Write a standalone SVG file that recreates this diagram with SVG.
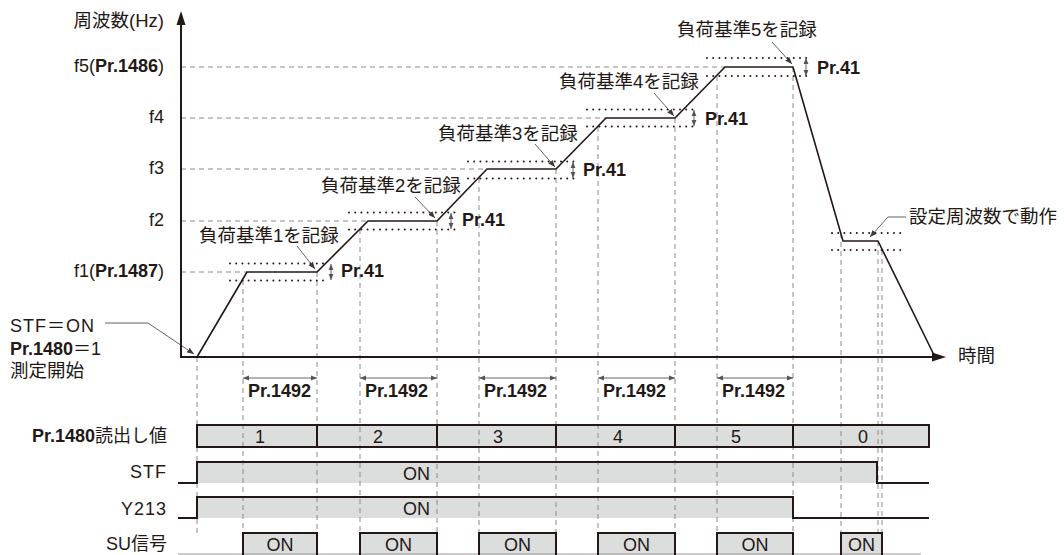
<svg xmlns="http://www.w3.org/2000/svg" width="1064" height="555" viewBox="0 0 1064 555">
<style>
text{font-family:"Liberation Sans","Noto Sans CJK JP",sans-serif;fill:#231815;font-size:18px}
.jp{font-size:18.5px}
.b{font-weight:bold}
.dash{stroke:#8a8a8a;stroke-width:1;stroke-dasharray:5 4;fill:none}
.dot{stroke:#231815;stroke-width:2;stroke-dasharray:0 6.2;stroke-linecap:round;fill:none}
.solid{stroke:#231815;stroke-width:2;fill:none}
.wave{stroke:#231815;stroke-width:1.6;fill:none;stroke-linejoin:round}
.lead{stroke:#3e3a39;stroke-width:0.8;fill:none}
.gray{fill:#dcdddd}
.dim{stroke:#555;stroke-width:0.9;fill:none}
</style>
<defs>
<marker id="ah" viewBox="0 0 10 10" refX="10" refY="5" markerWidth="7" markerHeight="7" markerUnits="userSpaceOnUse" orient="auto-start-reverse">
<path d="M0,1 L10,5 L0,9 Z" fill="#3e3a39"/>
</marker>
<marker id="dm" viewBox="0 0 10 10" refX="10" refY="5" markerWidth="6" markerHeight="6" markerUnits="userSpaceOnUse" orient="auto-start-reverse">
<path d="M0,1 L10,5 L0,9 Z" fill="#555"/>
</marker>
</defs>

<!-- fills of timing rows -->
<g id="fills">
<rect class="gray" x="197" y="425" width="732" height="22"/>
<rect class="gray" x="197" y="462" width="680" height="21"/>
<rect class="gray" x="197" y="497" width="596" height="21"/>
<rect class="gray" x="243" y="533" width="74" height="22"/>
<rect class="gray" x="360" y="533" width="77" height="22"/>
<rect class="gray" x="479" y="533" width="77" height="22"/>
<rect class="gray" x="598" y="533" width="77" height="22"/>
<rect class="gray" x="717" y="533" width="76" height="22"/>
<rect class="gray" x="841" y="533" width="41" height="22"/>
</g>

<!-- connectors / guides -->
<g id="connectors">
<!-- horizontal frequency guides -->
<path class="dash" d="M181,67H725 M181,118H606 M181,169H487 M181,221H368 M181,272H247"/>
<!-- vertical timing guides -->
<path class="dash" d="M197,357V533 M243,280V533 M317,272V533 M360,229V533 M437,221V533 M479,178V533 M556,169V533 M598,127V533 M675,118V533 M717,76V533 M793,67V533 M841,233V533 M878,241V533 M882,250V533"/>
<!-- Pr.41 dotted bands -->
<path class="dot" d="M230,263.5H328 M230,280.5H328 M349,212.5H455 M349,229.5H455 M468,161.5H577 M468,178.5H577 M587,109.5H695 M587,126.5H695 M707,58H807 M707,76H807 M832,233H902 M832,250H902"/>
<!-- Pr.41 dimension arrows -->
<line class="dim" x1="331" y1="264" x2="331" y2="280" marker-start="url(#dm)" marker-end="url(#dm)"/>
<line class="dim" x1="451" y1="213" x2="451" y2="229" marker-start="url(#dm)" marker-end="url(#dm)"/>
<line class="dim" x1="573" y1="162" x2="573" y2="178" marker-start="url(#dm)" marker-end="url(#dm)"/>
<line class="dim" x1="694" y1="110" x2="694" y2="126" marker-start="url(#dm)" marker-end="url(#dm)"/>
<line class="dim" x1="806" y1="58" x2="806" y2="76" marker-start="url(#dm)" marker-end="url(#dm)"/>
<!-- Pr.1492 dimension arrows -->
<line class="dim" x1="243" y1="378" x2="317" y2="378" marker-start="url(#dm)" marker-end="url(#dm)"/>
<line class="dim" x1="360" y1="378" x2="437" y2="378" marker-start="url(#dm)" marker-end="url(#dm)"/>
<line class="dim" x1="479" y1="378" x2="556" y2="378" marker-start="url(#dm)" marker-end="url(#dm)"/>
<line class="dim" x1="598" y1="378" x2="675" y2="378" marker-start="url(#dm)" marker-end="url(#dm)"/>
<line class="dim" x1="717" y1="378" x2="793" y2="378" marker-start="url(#dm)" marker-end="url(#dm)"/>
<!-- leaders -->
<polyline class="lead" points="105,323 148,323 194,354" marker-end="url(#ah)"/>
<line class="lead" x1="297" y1="246" x2="315" y2="269" marker-end="url(#ah)"/>
<line class="lead" x1="415" y1="197" x2="435" y2="218" marker-end="url(#ah)"/>
<line class="lead" x1="535" y1="144" x2="555" y2="167" marker-end="url(#ah)"/>
<line class="lead" x1="654" y1="93" x2="674" y2="116" marker-end="url(#ah)"/>
<line class="lead" x1="772" y1="42" x2="792" y2="64" marker-end="url(#ah)"/>
<polyline class="lead" points="906,217 888,217 870,237" marker-end="url(#ah)"/>
</g>

<!-- axes -->
<g id="axes">
<path class="solid" d="M181,22V357H934"/>
<polygon points="181,11 176.5,25 185.5,25" fill="#231815"/>
<polygon points="946,357 932,352.5 932,361.5" fill="#231815"/>
</g>

<!-- frequency waveform -->
<g id="waveform">
<path class="wave" d="M197,357 L247,272 L317,272 L368,221 L437,221 L487,169 L556,169 L606,118 L675,118 L725,67 L793,67 L843,241 L878,241 L935,357"/>
</g>

<!-- timing rows outlines -->
<g id="row-pr1480">
<rect x="197" y="425" width="732" height="22" fill="none" stroke="#231815" stroke-width="2"/>
<path class="solid" d="M317,425V447 M437,425V447 M556,425V447 M675,425V447 M793,425V447"/>
<text x="255" y="443">1</text>
<text x="373" y="443">2</text>
<text x="493" y="443">3</text>
<text x="613" y="443">4</text>
<text x="731" y="443">5</text>
<text x="858" y="443">0</text>
</g>
<g id="row-stf">
<path class="solid" d="M178,483H197V462H877V483H929"/>
<text x="403" y="480">ON</text>
</g>
<g id="row-y213">
<path class="solid" d="M178,518H197V497H793V518H929"/>
<text x="403" y="515">ON</text>
</g>
<g id="row-su">
<path d="M178,554H921" stroke="#9a9a9a" stroke-width="1.2" fill="none"/>
<path class="solid" d="M243,555V533H317V555 M360,555V533H437V555 M479,555V533H556V555 M598,555V533H675V555 M717,555V533H793V555 M841,555V533H882V555"/>
<text x="280" y="551" text-anchor="middle">ON</text>
<text x="398.5" y="551" text-anchor="middle">ON</text>
<text x="517.5" y="551" text-anchor="middle">ON</text>
<text x="636.5" y="551" text-anchor="middle">ON</text>
<text x="755" y="551" text-anchor="middle">ON</text>
<text x="861.5" y="551" text-anchor="middle">ON</text>
</g>

<!-- labels -->
<g id="axis-labels">
<text class="jp" x="164" y="27" text-anchor="end">周波数(Hz)</text>
<text x="164" y="72" text-anchor="end">f5(<tspan class="b">Pr.1486</tspan>)</text>
<text x="164" y="123" text-anchor="end">f4</text>
<text x="164" y="174" text-anchor="end">f3</text>
<text x="164" y="226" text-anchor="end">f2</text>
<text x="164" y="277" text-anchor="end">f1(<tspan class="b">Pr.1487</tspan>)</text>
<text class="jp" x="958" y="362">時間</text>
</g>
<g id="start-label">
<text x="10" y="332" letter-spacing="1">STF＝ON</text>
<text x="10" y="355"><tspan class="b">Pr.1480</tspan>＝1</text>
<text class="jp" x="10" y="377">測定開始</text>
</g>
<g id="record-labels">
<text class="jp" x="199" y="242">負荷基準1を記録</text>
<text class="jp" x="321" y="192">負荷基準2を記録</text>
<text class="jp" x="438" y="140">負荷基準3を記録</text>
<text class="jp" x="559" y="88">負荷基準4を記録</text>
<text class="jp" x="677" y="36">負荷基準5を記録</text>
<text class="jp" x="909" y="223">設定周波数で動作</text>
</g>
<g id="pr41-labels" class="b">
<text class="b" x="341" y="277">Pr.41</text>
<text class="b" x="462" y="226">Pr.41</text>
<text class="b" x="583" y="176">Pr.41</text>
<text class="b" x="705" y="125">Pr.41</text>
<text class="b" x="817" y="74">Pr.41</text>
</g>
<g id="pr1492-labels">
<text class="b" x="248" y="397">Pr.1492</text>
<text class="b" x="365" y="397">Pr.1492</text>
<text class="b" x="484" y="397">Pr.1492</text>
<text class="b" x="603" y="397">Pr.1492</text>
<text class="b" x="722" y="397">Pr.1492</text>
</g>
<g id="row-labels">
<text x="167" y="442" text-anchor="end"><tspan class="b">Pr.1480</tspan>読出し値</text>
<text x="167" y="478" text-anchor="end" letter-spacing="1">STF</text>
<text x="167" y="515" text-anchor="end" letter-spacing="1">Y213</text>
<text x="167" y="550" text-anchor="end">SU信号</text>
</g>
</svg>
